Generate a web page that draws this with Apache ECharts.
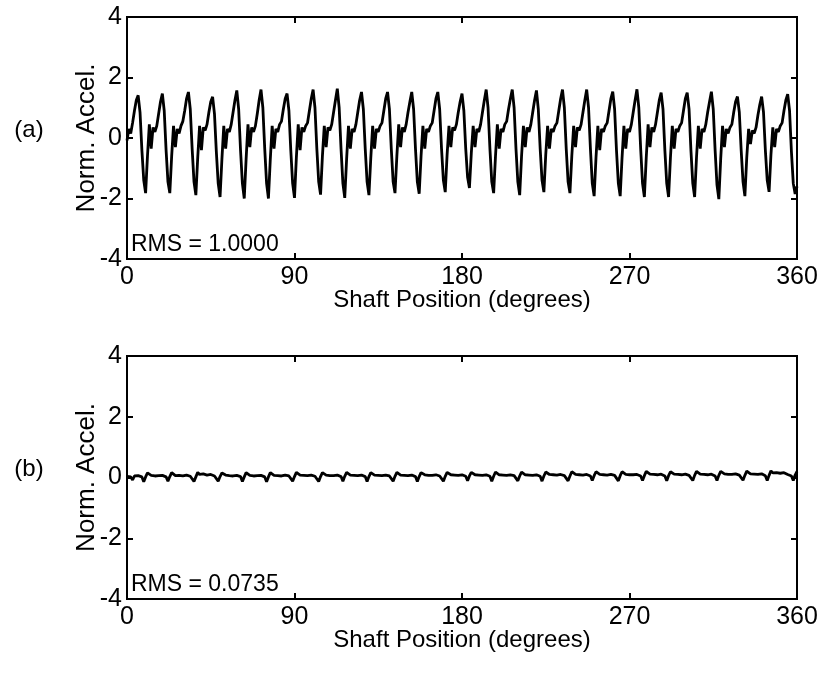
<!DOCTYPE html>
<html><head><meta charset="utf-8">
<script src="https://cdn.jsdelivr.net/npm/echarts/dist/echarts.min.js"></script>
<style>html,body{margin:0;padding:0;background:#fff}#c{width:827px;height:676px}</style>
</head><body><div id="c"></div>
<script>
// Panel (a): normalized acceleration, sampled every 1 degree (0..360)
const accelA = [
-0.08,0.3,0.15,0.5,0.9,1.25,
1.41,0.85,-0.4,-1.4,-1.82,-0.6,0.45,-0.35,0.35,0.2,0.4,0.8,1.2,
1.47,0.9,-0.4,-1.45,-1.82,-0.6,0.4,-0.3,0.3,0.15,0.4,0.55,0.9,1.3,
1.52,0.95,-0.35,-1.45,-1.89,-0.65,0.4,-0.4,0.35,0.25,0.45,0.85,1.2,
1.36,0.8,-0.45,-1.5,-1.95,-0.7,0.4,-0.35,0.3,0.2,0.45,0.85,1.25,
1.57,0.95,-0.4,-1.5,-2.0,-0.7,0.45,-0.3,0.35,0.2,0.4,0.8,1.25,
1.6,1.0,-0.35,-1.5,-2.0,-0.7,0.4,-0.35,0.3,0.2,0.45,0.55,0.95,1.3,
1.47,0.9,-0.4,-1.5,-1.98,-0.65,0.45,-0.4,0.35,0.2,0.4,0.5,0.9,1.3,
1.6,1.0,-0.35,-1.45,-1.87,-0.6,0.4,-0.3,0.35,0.25,0.45,0.85,1.25,
1.63,1.0,-0.35,-1.5,-1.98,-0.7,0.4,-0.35,0.3,0.2,0.45,0.85,1.25,
1.52,0.95,-0.35,-1.45,-1.89,-0.65,0.4,-0.35,0.3,0.2,0.4,0.5,0.9,1.3,
1.52,0.95,-0.35,-1.45,-1.82,-0.6,0.45,-0.3,0.35,0.2,0.45,0.85,1.2,
1.52,0.95,-0.35,-1.45,-1.84,-0.6,0.4,-0.35,0.3,0.2,0.4,0.5,0.9,1.3,
1.52,0.95,-0.35,-1.4,-1.79,-0.55,0.4,-0.3,0.35,0.25,0.45,0.85,1.2,
1.47,0.9,-0.35,-1.3,-1.65,-0.5,0.4,-0.3,0.3,0.2,0.45,0.85,1.25,
1.6,1.0,-0.35,-1.45,-1.82,-0.6,0.45,-0.35,0.3,0.2,0.45,0.55,0.95,1.3,
1.6,1.0,-0.35,-1.45,-1.89,-0.6,0.4,-0.3,0.35,0.2,0.45,0.85,1.25,
1.57,0.95,-0.35,-1.4,-1.79,-0.55,0.4,-0.35,0.3,0.2,0.4,0.5,0.9,1.3,
1.6,1.0,-0.35,-1.45,-1.82,-0.6,0.4,-0.3,0.35,0.25,0.45,0.85,1.25,
1.6,1.0,-0.35,-1.5,-1.92,-0.65,0.4,-0.4,0.3,0.2,0.4,0.5,0.9,1.3,
1.53,0.95,-0.4,-1.5,-1.92,-0.65,0.4,-0.35,0.3,0.2,0.45,0.85,1.25,
1.61,1.0,-0.35,-1.5,-1.95,-0.65,0.45,-0.3,0.35,0.2,0.45,0.85,1.25,
1.5,0.95,-0.4,-1.5,-1.95,-0.65,0.4,-0.35,0.3,0.2,0.4,0.5,0.9,1.3,
1.5,0.95,-0.4,-1.5,-1.95,-0.65,0.4,-0.35,0.3,0.2,0.45,0.85,1.2,
1.53,0.95,-0.4,-1.55,-2.02,-0.7,0.4,-0.3,0.3,0.15,0.35,0.45,0.85,1.2,
1.37,0.85,-0.4,-1.45,-1.92,-0.65,0.3,-0.2,0.25,0.15,0.35,0.75,1.1,
1.37,0.85,-0.4,-1.4,-1.78,-0.55,0.35,-0.3,0.3,0.2,0.4,0.5,0.9,1.25,
1.45,0.9,-0.45,-1.5,-1.85,-1.6
];
// Panel (b): residual normalized acceleration, sampled every 1 degree (0..360)
const accelB = [
0.04,0.07,0.02,-0.08,0.05,0.09,0.06,0.05,0.02,
-0.14,0.02,0.15,0.09,0.07,0.1,0.05,0.08,0.06,0.1,0.07,0.04,0.02,
-0.12,0.03,0.16,0.1,0.06,0.11,0.07,0.08,0.05,0.09,0.08,0.06,0.04,0.02,
-0.13,0.02,0.17,0.1,0.07,0.12,0.06,0.08,0.05,0.1,0.07,0.05,0.02,
-0.12,0.03,0.15,0.09,0.08,0.11,0.06,0.09,0.05,0.1,0.07,0.05,0.03,
-0.13,0.02,0.16,0.1,0.07,0.11,0.05,0.08,0.06,0.11,0.07,0.04,0.02,
-0.14,0.02,0.16,0.1,0.07,0.12,0.06,0.09,0.05,0.1,0.08,0.06,0.05,0.02,
-0.12,0.03,0.17,0.11,0.08,0.12,0.07,0.09,0.06,0.1,0.08,0.06,0.04,0.02,
-0.13,0.03,0.16,0.1,0.08,0.11,0.06,0.09,0.06,0.11,0.08,0.05,0.03,
-0.12,0.04,0.17,0.11,0.08,0.12,0.07,0.09,0.06,0.1,0.08,0.05,0.03,
-0.13,0.03,0.16,0.11,0.08,0.12,0.07,0.09,0.06,0.11,0.08,0.07,0.05,0.03,
-0.12,0.04,0.17,0.11,0.08,0.12,0.07,0.1,0.06,0.11,0.08,0.05,0.03,
-0.13,0.03,0.16,0.11,0.09,0.12,0.07,0.1,0.07,0.11,0.09,0.07,0.05,0.03,
-0.12,0.04,0.17,0.11,0.09,0.13,0.08,0.1,0.07,0.12,0.09,0.06,0.04,
-0.11,0.05,0.17,0.12,0.09,0.12,0.08,0.1,0.07,0.12,0.09,0.06,0.04,
-0.12,0.04,0.18,0.12,0.09,0.13,0.08,0.1,0.07,0.12,0.09,0.08,0.06,0.04,
-0.11,0.05,0.18,0.12,0.09,0.13,0.08,0.11,0.07,0.12,0.09,0.06,0.04,
-0.12,0.05,0.18,0.12,0.1,0.13,0.09,0.11,0.08,0.12,0.1,0.08,0.06,0.04,
-0.11,0.05,0.19,0.13,0.1,0.14,0.09,0.11,0.08,0.13,0.1,0.07,0.05,
-0.1,0.06,0.19,0.13,0.1,0.14,0.09,0.12,0.08,0.13,0.1,0.09,0.07,0.05,
-0.11,0.06,0.19,0.13,0.1,0.14,0.09,0.12,0.09,0.13,0.1,0.07,0.05,
-0.1,0.06,0.2,0.14,0.11,0.15,0.1,0.12,0.09,0.14,0.11,0.08,0.05,
-0.11,0.06,0.19,0.14,0.11,0.15,0.1,0.12,0.09,0.14,0.11,0.09,0.07,0.05,
-0.1,0.07,0.2,0.14,0.11,0.15,0.1,0.13,0.09,0.14,0.11,0.08,0.05,
-0.1,0.07,0.2,0.14,0.12,0.16,0.1,0.13,0.1,0.15,0.12,0.1,0.08,0.05,
-0.09,0.07,0.21,0.15,0.12,0.16,0.11,0.13,0.1,0.15,0.12,0.08,0.06,
-0.1,0.07,0.22,0.15,0.12,0.16,0.11,0.14,0.1,0.16,0.12,0.1,0.08,0.05,
-0.1,0.08,0.2
];
const stepDeg = 1;
const xTickLabels = [0, 90, 180, 270, 360];
const yTickLabels = [-4, -2, 0, 2, 4];
const panelLabels = ['(a)', '(b)'];
const rmsLabels = ['RMS = 1.0000', 'RMS = 0.0735'];
const xTitle = 'Shaft Position (degrees)';
const yTitle = 'Norm. Accel.';

const FONT = '"Liberation Sans", Arial, Helvetica, sans-serif';
const FS = 24;
const grids = [
  {left: 127, top: 17, width: 670, height: 242, show: true, borderColor: '#000', borderWidth: 2, backgroundColor: 'transparent'},
  {left: 127, top: 356, width: 670, height: 243, show: true, borderColor: '#000', borderWidth: 2, backgroundColor: 'transparent'}
];
const toPairs = arr => arr.map((v, i) => [i * stepDeg, v]);
const seriesData = [toPairs(accelA), toPairs(accelB)];

const chart = echarts.init(document.getElementById('c'), null, {renderer: 'canvas'});
const xAxes = [], yAxes = [], series = [];
grids.forEach((g, i) => {
  const common = {
    gridIndex: i, type: 'value',
    axisLine: {show: true, onZero: false, lineStyle: {color: '#000', width: 2}},
    axisTick: {show: true, inside: true, length: 6, lineStyle: {color: '#000', width: 2}},
    splitLine: {show: false}
  };
  const xr = {min: xTickLabels[0], max: xTickLabels[xTickLabels.length - 1], interval: xTickLabels[1] - xTickLabels[0]};
  const yr = {min: yTickLabels[0], max: yTickLabels[yTickLabels.length - 1], interval: yTickLabels[1] - yTickLabels[0]};
  xAxes.push(Object.assign({}, common, xr, {
    position: 'bottom',
    axisLabel: {show: true, color: '#000', fontFamily: FONT, fontSize: 25, margin: 6},
    name: xTitle, nameLocation: 'middle', nameGap: 29, nameMoveOverlap: false,
    nameTextStyle: {color: '#000', fontFamily: FONT, fontSize: FS}
  }));
  xAxes.push(Object.assign({}, common, xr, {position: 'top', axisLabel: {show: false}}));
  yAxes.push(Object.assign({}, common, yr, {
    position: 'left',
    axisLabel: {show: true, color: '#000', fontFamily: FONT, fontSize: 25, margin: 5},
    name: yTitle, nameLocation: 'middle', nameGap: 27, nameMoveOverlap: false,
    nameTextStyle: {color: '#000', fontFamily: FONT, fontSize: 26}
  }));
  yAxes.push(Object.assign({}, common, yr, {position: 'right', axisLabel: {show: false}}));
  series.push({
    type: 'line', xAxisIndex: i * 2, yAxisIndex: i * 2, data: seriesData[i],
    showSymbol: false, symbol: 'none', smooth: false,
    lineStyle: {color: '#000', width: 2.8}, clip: true
  });
});

const graphic = [];
grids.forEach((g, i) => {
  graphic.push({type: 'text', x: 29, y: g.top + g.height / 2 - 8,
    style: {text: panelLabels[i], font: FS + 'px ' + FONT, fill: '#000', align: 'center', verticalAlign: 'middle'}});
  graphic.push({type: 'text', x: g.left + 4, y: g.top + g.height - 14,
    style: {text: rmsLabels[i], font: '23px ' + FONT, fill: '#000', align: 'left', verticalAlign: 'middle'}});
});

chart.setOption({
  animation: false,
  backgroundColor: '#fff',
  grid: grids,
  xAxis: xAxes,
  yAxis: yAxes,
  series: series,
  graphic: graphic
});
</script>
</body></html>
